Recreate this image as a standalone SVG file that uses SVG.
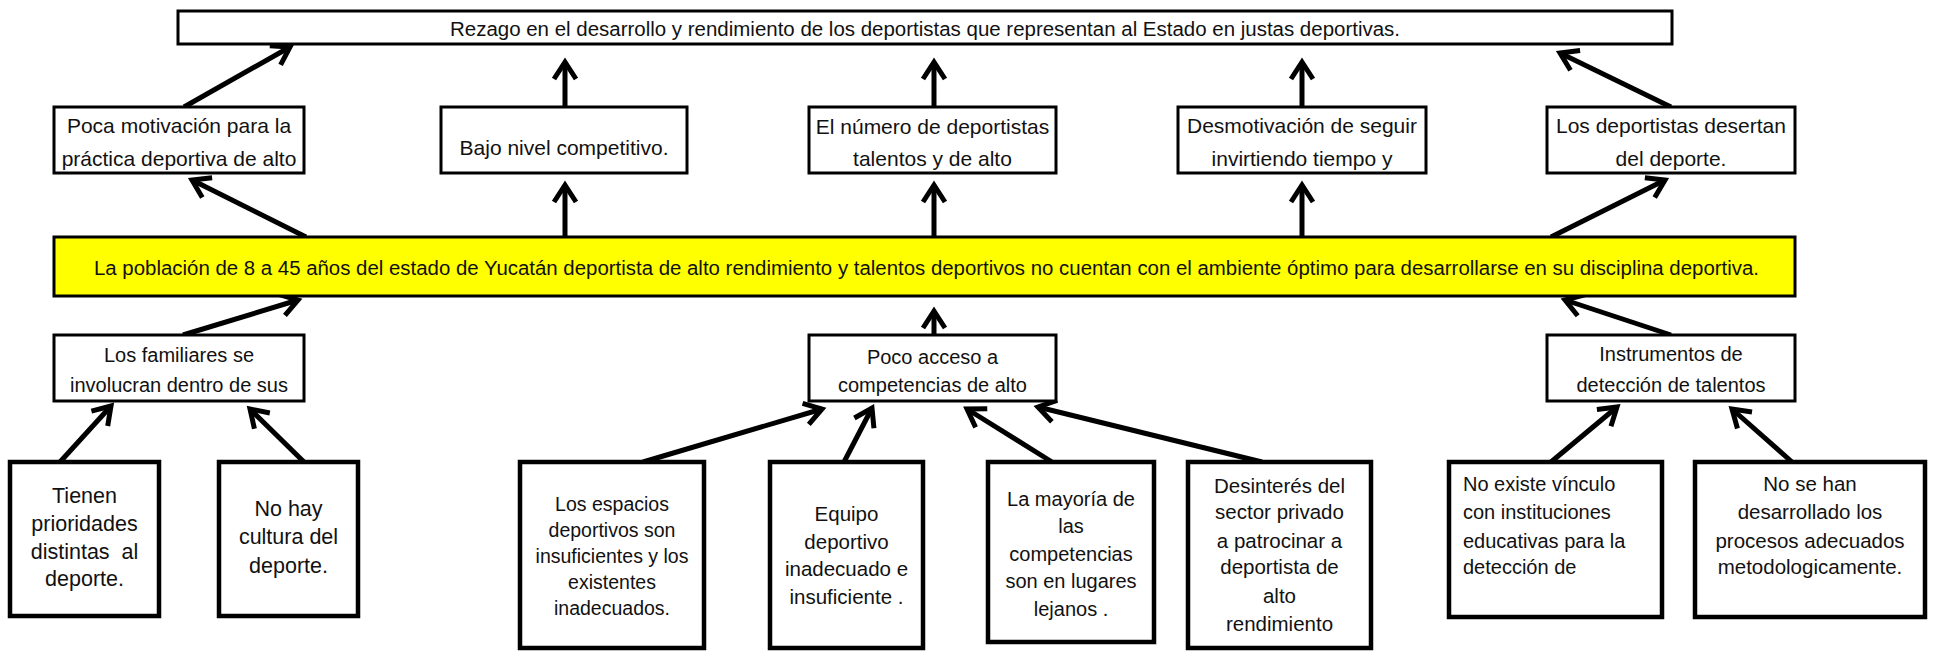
<svg xmlns="http://www.w3.org/2000/svg" width="1933" height="651" viewBox="0 0 1933 651">
<style>
.bx{fill:#fff;stroke:#000;stroke-width:3}
.bx4{fill:#fff;stroke:#000;stroke-width:4.5}
.yel{fill:#ffff00;stroke:#000;stroke-width:3}
text{font-family:"Liberation Sans",Arial,sans-serif;fill:#111;text-anchor:middle}
.f21{font-size:21px}
.f20{font-size:20px}
.f215{font-size:21.5px}
.f195{font-size:19.5px}
.f205{font-size:20.5px}
.lft{text-anchor:start}
.ar{stroke:#000;stroke-width:5;fill:none;marker-end:url(#ah)}
</style>
<defs>
<marker id="ah" markerUnits="userSpaceOnUse" viewBox="-30 -20 40 40" refX="0" refY="0" markerWidth="40" markerHeight="40" orient="auto">
<path d="M -17 -11 L 0 0 L -17 11" fill="none" stroke="#000" stroke-width="5" stroke-linejoin="miter"/>
</marker>
</defs>
<rect width="1933" height="651" fill="#fff"/>

<g id="connectors">
<line class="ar" x1="184" y1="107" x2="290" y2="47"/>
<line class="ar" x1="565" y1="107" x2="565" y2="62"/>
<line class="ar" x1="934" y1="107" x2="934" y2="62"/>
<line class="ar" x1="1302" y1="107" x2="1302" y2="62"/>
<line class="ar" x1="1671" y1="107" x2="1560" y2="53"/>

<line class="ar" x1="306" y1="237" x2="192" y2="180"/>
<line class="ar" x1="565" y1="237" x2="565" y2="185"/>
<line class="ar" x1="934" y1="237" x2="934" y2="185"/>
<line class="ar" x1="1302" y1="237" x2="1302" y2="185"/>
<line class="ar" x1="1551" y1="237" x2="1665" y2="180"/>

<line class="ar" x1="183" y1="335" x2="298" y2="300"/>
<line class="ar" x1="934" y1="335" x2="934" y2="311"/>
<line class="ar" x1="1671" y1="335" x2="1565" y2="300"/>

<line class="ar" x1="60" y1="462" x2="111" y2="406"/>
<line class="ar" x1="304" y1="462" x2="250" y2="409"/>
<line class="ar" x1="643" y1="462" x2="822" y2="409"/>
<line class="ar" x1="844" y1="462" x2="872" y2="408"/>
<line class="ar" x1="1052" y1="462" x2="967" y2="409"/>
<line class="ar" x1="1262" y1="462" x2="1038" y2="407"/>
<line class="ar" x1="1551" y1="462" x2="1617" y2="407"/>
<line class="ar" x1="1792" y1="462" x2="1732" y2="409"/>
</g>

<g id="efecto-final">
<rect class="bx" x="178" y="11" width="1494" height="33"/>
<text class="f20" x="925" y="36" textLength="950" lengthAdjust="spacingAndGlyphs">Rezago en el desarrollo y rendimiento de los deportistas que representan al Estado en justas deportivas.</text>
</g>

<g id="efecto-1">
<rect class="bx" x="54" y="107" width="250" height="66"/>
<text class="f21" x="179" y="133">Poca motivación para la</text>
<text class="f21" x="179" y="166">práctica deportiva de alto</text>
</g>
<g id="efecto-2">
<rect class="bx" x="441" y="107" width="246" height="66"/>
<text class="f21" x="564" y="155">Bajo nivel competitivo.</text>
</g>
<g id="efecto-3">
<rect class="bx" x="809" y="107" width="247" height="66"/>
<text class="f21" x="932.5" y="134">El número de deportistas</text>
<text class="f21" x="932.5" y="166">talentos y de alto</text>
</g>
<g id="efecto-4">
<rect class="bx" x="1178" y="107" width="248" height="66"/>
<text class="f21" x="1302" y="133">Desmotivación de seguir</text>
<text class="f21" x="1302" y="166">invirtiendo tiempo y</text>
</g>
<g id="efecto-5">
<rect class="bx" x="1547" y="107" width="248" height="66"/>
<text class="f21" x="1671" y="133">Los deportistas desertan</text>
<text class="f21" x="1671" y="166">del deporte.</text>
</g>

<g id="problema-central">
<rect class="yel" x="54" y="237" width="1741" height="59"/>
<text class="f20" x="926.5" y="275" textLength="1665" lengthAdjust="spacingAndGlyphs">La población de 8 a 45 años del estado de Yucatán deportista de alto rendimiento y talentos deportivos no cuentan con el ambiente óptimo para desarrollarse en su disciplina deportiva.</text>
</g>

<g id="causa-1">
<rect class="bx" x="54" y="335" width="250" height="66"/>
<text class="f20" x="179" y="362">Los familiares se</text>
<text class="f20" x="179" y="392">involucran dentro de sus</text>
</g>
<g id="causa-2">
<rect class="bx" x="809" y="335" width="247" height="66"/>
<text class="f20" x="932.5" y="364">Poco acceso a</text>
<text class="f20" x="932.5" y="392">competencias de alto</text>
</g>
<g id="causa-3">
<rect class="bx" x="1547" y="335" width="248" height="66"/>
<text class="f20" x="1671" y="361">Instrumentos de</text>
<text class="f20" x="1671" y="392">detección de talentos</text>
</g>

<g id="subcausa-1">
<rect class="bx4" x="10" y="462" width="149" height="154"/>
<text class="f215" x="84.5" y="503">Tienen</text>
<text class="f215" x="84.5" y="531">prioridades</text>
<text class="f215" x="84.5" y="559" xml:space="preserve">distintas  al</text>
<text class="f215" x="84.5" y="586">deporte.</text>
</g>
<g id="subcausa-2">
<rect class="bx4" x="219" y="462" width="139" height="154"/>
<text class="f215" x="288.5" y="516">No hay</text>
<text class="f215" x="288.5" y="544">cultura del</text>
<text class="f215" x="288.5" y="573">deporte.</text>
</g>
<g id="subcausa-3">
<rect class="bx4" x="520" y="462" width="184" height="186"/>
<text class="f195" x="612" y="511">Los espacios</text>
<text class="f195" x="612" y="537">deportivos son</text>
<text class="f195" x="612" y="563">insuficientes y los</text>
<text class="f195" x="612" y="589">existentes</text>
<text class="f195" x="612" y="615">inadecuados.</text>
</g>
<g id="subcausa-4">
<rect class="bx4" x="770" y="462" width="153" height="186"/>
<text class="f205" x="846.5" y="521">Equipo</text>
<text class="f205" x="846.5" y="549">deportivo</text>
<text class="f205" x="846.5" y="576">inadecuado e</text>
<text class="f205" x="846.5" y="604">insuficiente .</text>
</g>
<g id="subcausa-5">
<rect class="bx4" x="988" y="462" width="166" height="180"/>
<text class="f20" x="1071" y="506">La mayoría de</text>
<text class="f20" x="1071" y="533">las</text>
<text class="f20" x="1071" y="561">competencias</text>
<text class="f20" x="1071" y="588">son en lugares</text>
<text class="f20" x="1071" y="616">lejanos .</text>
</g>
<g id="subcausa-6">
<rect class="bx4" x="1188" y="462" width="183" height="186"/>
<text class="f205" x="1279.5" y="493">Desinterés del</text>
<text class="f205" x="1279.5" y="519">sector privado</text>
<text class="f205" x="1279.5" y="548">a patrocinar a</text>
<text class="f205" x="1279.5" y="574">deportista de</text>
<text class="f205" x="1279.5" y="603">alto</text>
<text class="f205" x="1279.5" y="631">rendimiento</text>
</g>
<g id="subcausa-7">
<rect class="bx4" x="1449" y="462" width="213" height="155"/>
<text class="f20 lft" x="1463" y="491">No existe vínculo</text>
<text class="f20 lft" x="1463" y="519">con instituciones</text>
<text class="f20 lft" x="1463" y="548">educativas para la</text>
<text class="f20 lft" x="1463" y="574">detección de</text>
</g>
<g id="subcausa-8">
<rect class="bx4" x="1695" y="462" width="230" height="155"/>
<text class="f205" x="1810" y="491">No se han</text>
<text class="f205" x="1810" y="519">desarrollado los</text>
<text class="f205" x="1810" y="548">procesos adecuados</text>
<text class="f205" x="1810" y="574">metodologicamente.</text>
</g>
</svg>
